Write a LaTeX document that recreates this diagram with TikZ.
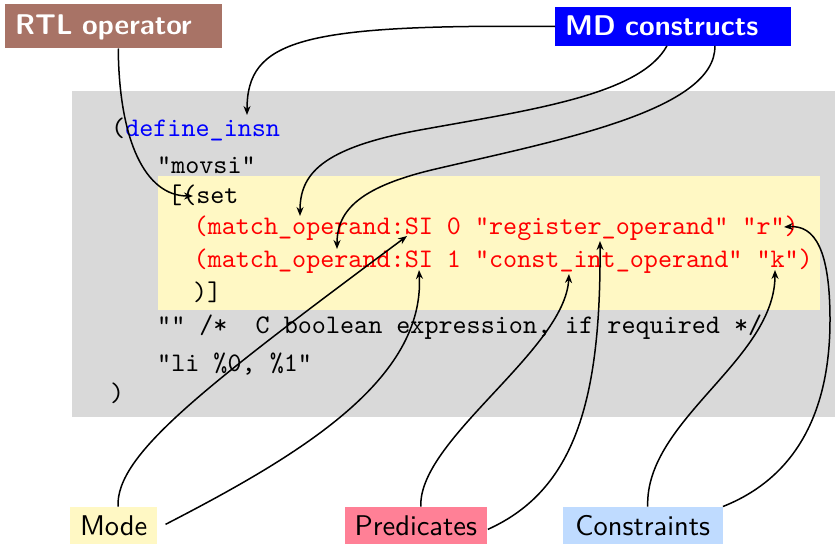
\documentclass[tikz,border=0pt]{standalone}
\usepackage{fontspec}
\usetikzlibrary{arrows.meta}
\definecolor{panelgray}{RGB}{217,217,217}
\definecolor{hiyellow}{RGB}{255,248,196}
\definecolor{rtlbrown}{RGB}{168,115,102}
\definecolor{predpink}{RGB}{255,128,150}
\definecolor{conblue}{RGB}{191,219,255}
\definecolor{mdblue}{RGB}{0,0,255}
% 10pt design sizes, scaled up
\newfontfamily\codett{lmmono10-regular.otf}
\newfontfamily\labelsf{lmsans10-regular.otf}[BoldFont=lmsans10-bold.otf]
\newcommand{\codefont}{\codett\fontsize{26.8pt}{32pt}\selectfont}
\newcommand{\labelfont}{\labelsf\fontsize{28.5pt}{34pt}\selectfont}

\begin{document}
\begin{tikzpicture}[x=1pt,y=-1pt,
  codeline/.style={anchor=base west, inner sep=0pt, font=\codefont},
  toplabel/.style={anchor=base west, inner xsep=10pt, inner ysep=0pt, align=left, text=white, font=\labelfont\bfseries},
  botlabel/.style={anchor=base, inner xsep=0pt, inner ysep=0pt, text height=29pt, text depth=8.3pt, font=\labelfont},
  link/.style={line width=1.5pt},
  arr/.style={link, -{Stealth[length=9pt,width=7pt]}}]
\useasboundingbox (0,0) rectangle (835,544);

% code panel and highlighted pattern
\fill[panelgray] (72,91) rectangle (835,417);
\fill[hiyellow] (158,176) rectangle (820,310);

% the machine description entry
\node[codeline] (l1) at (111,136) {(\textcolor{mdblue}{define\_insn}};
\node[codeline] (l2) at (157,173) {"movsi"};
\node[codeline] (l3) at (168,203) {[(set};
\node[codeline, text=red] (l4) at (193.5,234) {(match\_operand:SI 0 "register\_operand" "r")};
\node[codeline, text=red] (l5) at (193.5,267) {(match\_operand:SI 1 "const\_int\_operand" "k")};
\node[codeline] (l6) at (193,300) {)]};
\node[codeline] (l7) at (157,333) {"" /*\ \ C boolean expression, if required */};
\node[codeline] (l8) at (157,371) {"li \%0, \%1"};
\node[codeline] (l9) at (110,401) {)};

% labels
\node[toplabel, fill=rtlbrown, text width=196.7pt, text height=30pt, text depth=14.3pt] (rtl) at (5,34) {RTL operator};
\node[toplabel, fill=mdblue, text width=215.4pt, text height=28.4pt, text depth=10pt] (md) at (555,35.7) {MD constructs};
\node[botlabel, fill=hiyellow, minimum width=87.3pt] (mode) at (113.7,535.7) {Mode};
\node[botlabel, fill=predpink, minimum width=141.7pt] (pred) at (415.85,535.7) {Predicates};
\node[botlabel, fill=conblue, minimum width=160pt] (cons) at (642.7,535.7) {Constraints};

% arrow targets inside the code
\coordinate (tRTL) at (193,196);
\coordinate (tDef) at (247,115);
\coordinate (tOp1) at (300,216);
\coordinate (tOp2) at (337,249);
\coordinate (tSI1) at (407,236);
\coordinate (tSI2) at (419,270);
\coordinate (tInt) at (569,274);
\coordinate (tReg) at (600,241);
\coordinate (tK) at (775,270);
\coordinate (tR) at (784,227);

% connectors
\draw[arr] ([xshift=4.7pt]rtl.south) .. controls (119,140) and (145,196) .. (tRTL);
\draw[arr] (md.west) .. controls (300,24) and (247,40) .. (tDef);
\draw[arr] ([xshift=-6pt]md.south) .. controls (640,95) and (530,110) .. (420,130)
  .. controls (320,148.2) and (300,175) .. (tOp1);
\draw[arr] ([xshift=42pt]md.south) .. controls (716,110) and (560,140) .. (440,168)
  .. controls (360,186) and (337,210) .. (tOp2);
\draw[arr] ([xshift=4.3pt]mode.north) .. controls (116,455) and (200,390) .. (tSI1);
\draw[arr] ([xshift=8pt,yshift=1pt]mode.east) .. controls (300,455) and (425,380) .. (tSI2);
\draw[arr] ([xshift=5pt]pred.north) .. controls (418,440) and (565,350) .. (tInt);
\draw[arr] ([xshift=1pt,yshift=-4pt]pred.east) .. controls (575,490) and (601,400) .. (tReg);
\draw[arr] ([xshift=5pt]cons.north) .. controls (645,420) and (775,360) .. (tK);
\draw[arr] (cons.north east) .. controls (790,480) and (830,420) .. (830,320)
  .. controls (830,250) and (815,225) .. (tR);
\end{tikzpicture}
\end{document}
